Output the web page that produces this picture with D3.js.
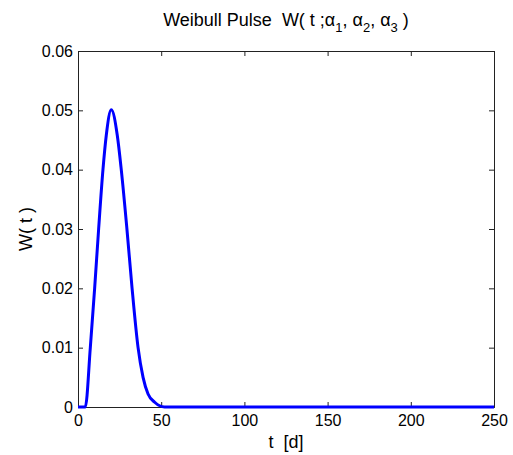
<!DOCTYPE html>
<html>
<head>
<meta charset="utf-8">
<script src="https://cdn.jsdelivr.net/npm/d3@7"></script>
<style>
  body { margin: 0; background: #fff; }
  text { font-family: "Liberation Sans", Arial, sans-serif; fill: #000; white-space: pre; }
</style>
</head>
<body>
<div id="chart"></div>
<script>
var width = 513, height = 455;
var margin = {left: 78, right: 19, top: 51, bottom: 48};

// values
var tValues = [0, 4.4, 7.4, 10.0, 12.4, 15.0, 17.0, 20.0, 23.6, 26.0, 29.4, 32.5, 36.1, 39.1, 42.1, 46.1, 52, 100, 150, 200, 250];
var wValues = [0, 0, 0.01, 0.02, 0.03, 0.04, 0.0458, 0.0501, 0.0458, 0.04, 0.03, 0.02, 0.01, 0.005, 0.0022, 0.0008, 0, 0, 0, 0, 0];
var xTicks = [0, 50, 100, 150, 200, 250];
var yTicks = [0, 0.01, 0.02, 0.03, 0.04, 0.05, 0.06];

var data = tValues.map(function (t, i) {
  return {t: t, w: wValues[i]};
});

var svg = d3.select('#chart')
  .append('svg')
  .attr('width', width)
  .attr('height', height);

var xScale = d3.scaleLinear()
  .domain([0, 250])
  .range([margin.left, width - margin.right]);

var yScale = d3.scaleLinear()
  .domain([0, 0.06])
  .range([height - margin.bottom, margin.top]);

var fmtY = function (d) { return d === 0 ? '0' : d3.format('.2f')(d); };

// axes with inward ticks
var xAxisG = svg.append('g')
  .attr('transform', 'translate(0,' + (height - margin.bottom) + ')')
  .call(d3.axisBottom(xScale).tickValues(xTicks).tickSize(-5).tickPadding(8));

var xTopG = svg.append('g')
  .attr('transform', 'translate(0,' + margin.top + ')')
  .call(d3.axisTop(xScale).tickValues(xTicks).tickSize(-5).tickFormat(''));

var yAxisG = svg.append('g')
  .attr('transform', 'translate(' + margin.left + ',0)')
  .call(d3.axisLeft(yScale).tickValues(yTicks).tickSize(-5).tickPadding(5).tickFormat(fmtY));

var yRightG = svg.append('g')
  .attr('transform', 'translate(' + (width - margin.right) + ',0)')
  .call(d3.axisRight(yScale).tickValues(yTicks).tickSize(-5).tickFormat(''));

svg.selectAll('.domain').attr('stroke', '#222');
svg.selectAll('.tick line').attr('stroke', '#222');
svg.selectAll('.tick text').style('font-size', '16px').attr('fill', '#000');

// curve
var line = d3.line()
  .x(function (d) { return xScale(d.t); })
  .y(function (d) { return yScale(d.w); })
  .curve(d3.curveMonotoneX);

svg.append('path')
  .datum(data)
  .attr('fill', 'none')
  .attr('stroke', '#0000ff')
  .attr('stroke-width', 3)
  .attr('d', line);

// title
var title = svg.append('text')
  .attr('x', (margin.left + width - margin.right) / 2)
  .attr('y', 26)
  .attr('text-anchor', 'middle')
  .style('font-size', '18px');
title.append('tspan').text('Weibull Pulse  W( t ;α');
title.append('tspan').attr('dy', 6).style('font-size', '13px').text('1');
title.append('tspan').attr('dy', -6).text(', α');
title.append('tspan').attr('dy', 6).style('font-size', '13px').text('2');
title.append('tspan').attr('dy', -6).text(', α');
title.append('tspan').attr('dy', 6).style('font-size', '13px').text('3');
title.append('tspan').attr('dy', -6).text(' )');

svg.append('text')
  .attr('x', (margin.left + width - margin.right) / 2)
  .attr('y', 448)
  .attr('text-anchor', 'middle')
  .style('font-size', '18px')
  .text('t  [d]');

svg.append('text')
  .attr('transform', 'translate(32,' + ((margin.top + height - margin.bottom) / 2) + ') rotate(-90)')
  .attr('text-anchor', 'middle')
  .style('font-size', '18px')
  .text('W( t )');
</script>
</body>
</html>
